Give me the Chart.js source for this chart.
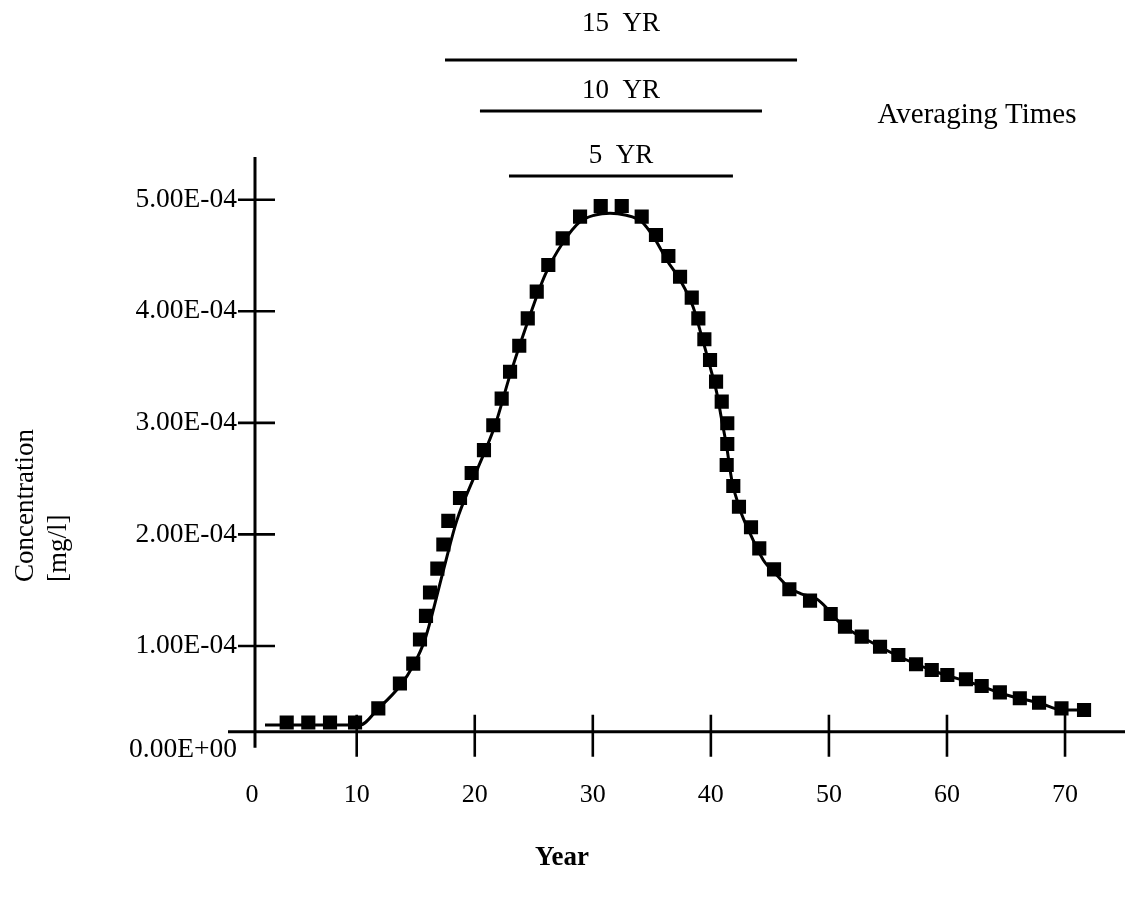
<!DOCTYPE html>
<html><head><meta charset="utf-8">
<script src="https://cdn.jsdelivr.net/npm/chart.js@4.4.1/dist/chart.umd.min.js"></script>
<style>html,body{margin:0;padding:0;background:#fff;}canvas{display:block;}</style>
</head><body>
<canvas id="c" width="1125" height="898"></canvas>
<script>
// ---- data ----
const markerYears = [4.07,5.90,7.74,9.86,11.83,13.66,14.79,15.36,15.87,16.21,16.83,17.34,17.76,18.75,19.74,
  20.78,21.57,22.28,22.99,23.77,24.49,25.25,26.23,27.45,28.92,30.67,32.45,
  34.14,35.35,36.40,37.39,38.38,38.94,39.45,39.93,40.44,40.92,
  41.39,41.39,41.34,41.90,42.38,43.40,44.10,45.35,46.65,
  48.40,50.15,51.36,52.78,54.33,55.88,57.38,58.71,60.03,61.61,62.94,64.48,66.17,67.80,69.70,71.61];
const markerValues = [3.14e-5,3.14e-5,3.14e-5,3.14e-5,4.41e-5,6.63e-5,8.42e-5,1.058e-4,1.270e-4,1.479e-4,1.693e-4,1.909e-4,2.121e-4,2.326e-4,2.550e-4,
  2.755e-4,2.978e-4,3.217e-4,3.458e-4,3.691e-4,3.937e-4,4.176e-4,4.415e-4,4.654e-4,4.848e-4,4.944e-4,4.944e-4,
  4.848e-4,4.684e-4,4.496e-4,4.310e-4,4.122e-4,3.937e-4,3.749e-4,3.563e-4,3.369e-4,3.190e-4,
  2.996e-4,2.810e-4,2.622e-4,2.434e-4,2.248e-4,2.064e-4,1.875e-4,1.687e-4,1.508e-4,
  1.406e-4,1.286e-4,1.173e-4,1.083e-4,9.93e-5,9.19e-5,8.36e-5,7.84e-5,7.40e-5,7.01e-5,6.41e-5,5.84e-5,5.31e-5,4.91e-5,4.41e-5,4.26e-5];
const curveYears = [2.23,10.28,11.8,13.66,14.77,15.78,17.34,18.47,20.02,21.72,22.99,24.48,25.95,27.45,28.92,30.19,31.46,32.73,34.14,35.3,36.26,37.39,38.49,39.23,39.93,40.5,40.92,41.34,41.77,42.48,43.3,44.44,45.57,46.65,47.6,48.97,49.81,50.97,53.76,56.59,59.42,62.23,65.06,67.88,69.83,71.52];
const curveValues = [2.91e-5,2.91e-5,4.35e-5,6.41e-5,8.2e-5,1.058e-4,1.676e-4,2.121e-4,2.533e-4,2.978e-4,3.43e-4,3.904e-4,4.325e-4,4.612e-4,4.803e-4,4.863e-4,4.879e-4,4.863e-4,4.803e-4,4.64e-4,4.46e-4,4.281e-4,4.041e-4,3.772e-4,3.503e-4,3.268e-4,3.026e-4,2.786e-4,2.488e-4,2.219e-4,2.013e-4,1.771e-4,1.636e-4,1.52e-4,1.47e-4,1.42e-4,1.34e-4,1.203e-4,1.024e-4,8.74e-5,7.55e-5,6.65e-5,5.6e-5,4.86e-5,4.26e-5,4.26e-5];
const xTickValues = [0,10,20,30,40,50,60,70];
const xTickLabels = ['0','10','20','30','40','50','60','70'];
const yTickValues = [0,1e-4,2e-4,3e-4,4e-4,5e-4];
const yTickLabels = ['0.00E+00','1.00E-04','2.00E-04','3.00E-04','4.00E-04','5.00E-04'];
const avgLabels = ['15  YR','10  YR','5  YR'];
const avgStart = [17.48,20.44,22.9];
const avgEnd = [47.3,44.33,41.87];
const xTitle = 'Year';
const yTitle = ['Concentration','[mg/l]'];
const avgTitle = 'Averaging Times';

// axis crossing points
const yAxisAtYear = 1.385;
const xAxisAtValue = 2.31e-5;

const SERIF = '"Liberation Serif","Times New Roman",serif';

const axesPlugin = {
  id: 'axesPlugin',
  beforeDatasetsDraw(chart) {
    const ctx = chart.ctx, xs = chart.scales.x, ys = chart.scales.y, ca = chart.chartArea;
    const ax = xs.getPixelForValue(yAxisAtYear);
    const ay = ys.getPixelForValue(xAxisAtValue);
    ctx.save();
    ctx.strokeStyle = '#000';
    ctx.lineCap = 'butt';
    ctx.lineWidth = 3;
    ctx.beginPath();
    ctx.moveTo(ax, ca.top); ctx.lineTo(ax, ay + 16);
    ctx.moveTo(ca.left, ay); ctx.lineTo(ca.right, ay);
    ctx.stroke();
    ctx.lineWidth = 2.6;
    ctx.beginPath();
    xTickValues.forEach(v => { if (v === 0) return; const px = xs.getPixelForValue(v); ctx.moveTo(px, ay - 17); ctx.lineTo(px, ay + 25); });
    yTickValues.forEach(v => { if (v === 0) return; const py = ys.getPixelForValue(v); ctx.moveTo(ax - 17, py); ctx.lineTo(ax + 20, py); });
    ctx.stroke();
    // tick labels
    ctx.fillStyle = '#000';
    ctx.font = '27.5px ' + SERIF;
    ctx.textAlign = 'right'; ctx.textBaseline = 'middle';
    yTickValues.forEach((v, i) => {
      let py = ys.getPixelForValue(v);
      if (v === 0) py = ay + 18;
      ctx.fillText(yTickLabels[i], ax - 18, py);
    });
    ctx.font = '26px ' + SERIF;
    ctx.textAlign = 'center';
    xTickValues.forEach((v, i) => {
      let px = xs.getPixelForValue(v);
      if (v === 0) px = ax - 3;
      ctx.fillText(xTickLabels[i], px, ay + 63);
    });
    // axis titles
    ctx.font = 'bold 27px ' + SERIF;
    ctx.fillText(xTitle, 562, 858);
    ctx.font = '27px ' + SERIF;
    ctx.save();
    ctx.translate(33, 582); ctx.rotate(-Math.PI / 2);
    ctx.textAlign = 'left'; ctx.textBaseline = 'alphabetic';
    ctx.fillText(yTitle[0], 0, 0);
    ctx.fillText(yTitle[1], 0, 33);
    ctx.restore();
    // averaging times
    ctx.textAlign = 'center';
    ctx.font = '29px ' + SERIF;
    ctx.fillText(avgTitle, 977, 115);
    ctx.font = '27px ' + SERIF;
    const lineY = [60, 111, 176];
    const textY = [24, 91, 156];
    ctx.lineWidth = 2.8;
    avgLabels.forEach((lab, i) => {
      const x1 = xs.getPixelForValue(avgStart[i]);
      const x2 = xs.getPixelForValue(avgEnd[i]);
      ctx.beginPath(); ctx.moveTo(x1, lineY[i]); ctx.lineTo(x2, lineY[i]); ctx.stroke();
      ctx.fillText(lab, (x1 + x2) / 2, textY[i]);
    });
    ctx.restore();
  }
};

new Chart(document.getElementById('c'), {
  type: 'line',
  data: {
    datasets: [
      {
        label: 'Curve',
        data: curveYears.map((x, i) => ({x, y: curveValues[i]})),
        borderColor: '#000', borderWidth: 3, pointRadius: 0,
        cubicInterpolationMode: 'monotone', fill: false, order: 2
      },
      {
        label: 'Points',
        data: markerYears.map((x, i) => ({x, y: markerValues[i]})),
        showLine: false, pointStyle: 'rect', pointRadius: 10,
        pointBackgroundColor: '#000', pointBorderColor: '#000', pointBorderWidth: 0, order: 1
      }
    ]
  },
  options: {
    responsive: false,
    devicePixelRatio: 1,
    animation: false,
    layout: { autoPadding: false, padding: { left: 228, right: 0, top: 157, bottom: 140.5 } },
    plugins: { legend: { display: false }, tooltip: { enabled: false } },
    scales: {
      x: { type: 'linear', min: -0.902, max: 75.08, display: false },
      y: { type: 'linear', min: 0, max: 5.383e-4, display: false }
    }
  },
  plugins: [axesPlugin]
});
</script>
</body></html>
